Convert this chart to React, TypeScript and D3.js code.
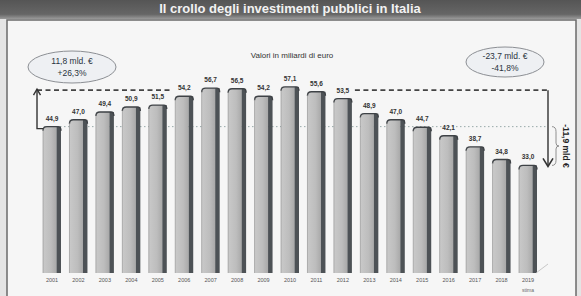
import React from "react";
import * as d3 from "d3";

const years = ["2001","2002","2003","2004","2005","2006","2007","2008","2009","2010","2011","2012","2013","2014","2015","2016","2017","2018","2019"];
const values = [44.9, 47.0, 49.4, 50.9, 51.5, 54.2, 56.7, 56.5, 54.2, 57.1, 55.6, 53.5, 48.9, 47.0, 44.7, 42.1, 38.7, 34.8, 33.0];
const valueLabels = ["44,9","47,0","49,4","50,9","51,5","54,2","56,7","56,5","54,2","57,1","55,6","53,5","48,9","47,0","44,7","42,1","38,7","34,8","33,0"];
const title = "Il crollo degli investimenti pubblici in Italia";
const subtitle = "Valori in miliardi di euro";
const leftNote = ["11,8 mld. €", "+26,3%"];
const rightNote = ["-23,7 mld. €", "-41,8%"];
const sideNote = "-11,9 mld €";
const lastYearNote = "stima";
const peakValue = 56.7;

const W = 581, H = 296;

export default function App() {
  const x = d3.scalePoint<string>().domain(years).range([52, 528]);
  const y = d3.scaleLinear().domain([0, 60]).range([273, 77.4]);
  const bw = 18;
  const side = 4.5;
  const yStart = y(values[0]);
  const yPeak = y(peakValue) + 2;
  const yEnd = y(values[values.length - 1]);
  const rightX = 548;
  const leftX = 37;

  return (
    <svg width={W} height={H} style={{ position: "absolute", left: 0, top: 0, fontFamily: "'Liberation Sans', Arial, sans-serif" }}>
      <defs>
        <linearGradient id="face" x1="0" x2="1" y1="0" y2="0">
          <stop offset="0" stopColor="#c9c9c9" />
          <stop offset="0.6" stopColor="#bdbdbd" />
          <stop offset="1" stopColor="#a9a9a9" />
        </linearGradient>
        <linearGradient id="banner" x1="0" x2="0" y1="0" y2="1">
          <stop offset="0" stopColor="#555" />
          <stop offset="0.75" stopColor="#666" />
          <stop offset="1" stopColor="#9a9a9a" />
        </linearGradient>
      </defs>
      <rect x={0} y={0} width={W} height={H} fill="#e4e4e4" />
      <rect x={0} y={0} width={W} height={19} fill="url(#banner)" />
      <text x={290} y={13} textAnchor="middle" fill="#f2f2f2" fontSize={13} fontWeight="bold">{title}</text>
      <rect x={7} y={20} width={569} height={280} fill="#f6f6f6" stroke="#6a6a6a" strokeWidth={1.5} />

      <text x={292} y={58} textAnchor="middle" fontSize={8} fill="#333">{subtitle}</text>

      {/* dotted reference at start level */}
      <line x1={44} x2={rightX} y1={yStart} y2={yStart} stroke="#9aa" strokeWidth={1} strokeDasharray="1.5,2.5" />
      {/* dashed peak line (two segments around the labels) */}
      <line x1={leftX} x2={x(years[5])! - 13} y1={yPeak} y2={yPeak} stroke="#444" strokeWidth={1.6} strokeDasharray="5,3.5" />
      <line x1={x(years[11])! + 12} x2={rightX} y1={yPeak} y2={yPeak} stroke="#444" strokeWidth={1.6} strokeDasharray="5,3.5" />

      {/* bars */}
      {values.map((v, i) => {
        const cx = x(years[i])!;
        const top = y(v);
        const x0 = cx - bw / 2;
        return (
          <g key={years[i]}>
            <rect x={x0} y={top} width={bw - side} height={273 - top} fill="url(#face)" />
            <rect x={x0 + bw - side} y={top} width={side} height={273 - top} fill="#4d5256" />
            <path d={`M${x0},${top + 4} Q${x0},${top} ${x0 + 4},${top} L${x0 + bw - 3},${top} Q${x0 + bw},${top} ${x0 + bw},${top + 4}`} fill="none" stroke="#3e4246" strokeWidth={1.4} />
            <line x1={x0} x2={x0} y1={top + 3} y2={273} stroke="#8a8a8a" strokeWidth={0.6} />
            <text x={cx} y={top - 6} textAnchor="middle" fontSize={6.5} fontWeight="bold" fill="#333">{valueLabels[i]}</text>
            <text x={cx} y={282} textAnchor="middle" fontSize={5.5} fill="#555">{years[i]}</text>
          </g>
        );
      })}
      <text x={x(years[years.length - 1])!} y={292} textAnchor="middle" fontSize={5} fill="#666">{lastYearNote}</text>
      <line x1={536} x2={548} y1={273} y2={264} stroke="#bbb" strokeWidth={0.8} />

      {/* left arrow */}
      <path d={`M${x(years[0])! - bw / 2},${yStart + 2} L${leftX},${yStart + 2} L${leftX},${yPeak - 1}`} fill="none" stroke="#333" strokeWidth={1.4} />
      <path d={`M${leftX - 3.5},${yPeak + 5} L${leftX},${yPeak - 1} L${leftX + 3.5},${yPeak + 5}`} fill="none" stroke="#333" strokeWidth={1.4} />

      {/* right arrow */}
      <line x1={rightX} x2={rightX} y1={yPeak} y2={yEnd} stroke="#333" strokeWidth={1.4} />
      <path d={`M${rightX - 5},${yEnd - 7} L${rightX},${yEnd + 1} L${rightX + 5},${yEnd - 7}`} fill="none" stroke="#333" strokeWidth={1.6} />

      {/* brace */}
      <path d={`M${rightX + 4},${yStart} Q${rightX + 8},${yStart} ${rightX + 8},${yStart + 5} L${rightX + 8},${(yStart + yEnd) / 2 - 3} Q${rightX + 8},${(yStart + yEnd) / 2} ${rightX + 11},${(yStart + yEnd) / 2} Q${rightX + 8},${(yStart + yEnd) / 2} ${rightX + 8},${(yStart + yEnd) / 2 + 3} L${rightX + 8},${yEnd - 5} Q${rightX + 8},${yEnd} ${rightX + 4},${yEnd}`} fill="none" stroke="#777" strokeWidth={0.8} />
      <text transform={`translate(${rightX + 15},${(yStart + yEnd) / 2}) rotate(90)`} textAnchor="middle" fontSize={8.5} fontWeight="bold" fill="#222">{sideNote}</text>

      {/* ellipses */}
      <ellipse cx={72} cy={67} rx={44} ry={16} fill="#eef0f3" stroke="#8c8f94" strokeWidth={1} />
      <text x={72} y={64} textAnchor="middle" fontSize={8.5} fill="#2a3340">{leftNote[0]}</text>
      <text x={72} y={76} textAnchor="middle" fontSize={8.5} fill="#2a3340">{leftNote[1]}</text>
      <ellipse cx={505} cy={62} rx={39} ry={15} fill="#eef0f3" stroke="#8c8f94" strokeWidth={1} />
      <text x={505} y={59} textAnchor="middle" fontSize={8.5} fill="#2a3340">{rightNote[0]}</text>
      <text x={505} y={71} textAnchor="middle" fontSize={8.5} fill="#2a3340">{rightNote[1]}</text>
    </svg>
  );
}
